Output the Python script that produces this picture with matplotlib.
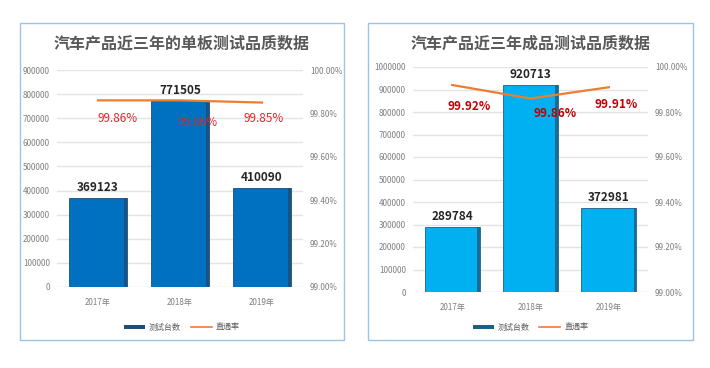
import matplotlib.pyplot as plt
import numpy as np
from matplotlib.patches import Rectangle
from matplotlib.lines import Line2D
from matplotlib.ticker import FuncFormatter

plt.rcParams['font.family'] = ['Noto Sans CJK SC', 'DejaVu Sans']

years = ['2017年', '2018年', '2019年']

board_title = '汽车产品近三年的单板测试品质数据'
board_counts = [369123, 771505, 410090]
board_rate = [99.86, 99.86, 99.85]

product_title = '汽车产品近三年成品测试品质数据'
product_counts = [289784, 920713, 372981]
product_rate = [99.92, 99.86, 99.91]

W, H = 710, 368
fig = plt.figure(figsize=(W / 100, H / 100), dpi=100)


def px(x0, y0, x1, y1):
    # pixel box (top-left origin) -> figure fraction rect
    return [x0 / W, 1 - y1 / H, (x1 - x0) / W, (y1 - y0) / H]


def panel(box, area, title, counts, rate, ymax, bar_color, edge_color,
          pct_style, pct_offsets):
    bx0, by0, bx1, by1 = box
    fig.patches.append(Rectangle((bx0 / W, 1 - by1 / H), (bx1 - bx0) / W,
                                 (by1 - by0) / H, transform=fig.transFigure,
                                 fill=False, edgecolor='#9DC3E6', lw=1.0))
    fig.text((bx0 + bx1) / 2 / W, 1 - 44 / H, title, ha='center', va='center',
             fontsize=11.5, fontweight='bold', color='#595959')

    ax = fig.add_axes(px(*area))
    x = np.arange(len(years))
    bw = 0.70
    ax.bar(x, counts, bw, color=bar_color, edgecolor=edge_color, lw=0.6, zorder=2)
    # darker bevel strip on the right side of each bar
    sw = 0.035
    ax.bar(x + bw / 2 - sw / 2, counts, sw, color=edge_color, lw=0,
           alpha=0.85, zorder=2.5)
    ax.set_xlim(-0.5, 2.5)
    ax.set_ylim(0, ymax)
    ax.set_yticks(np.arange(0, ymax + 1, 100000))
    ax.yaxis.set_major_formatter(FuncFormatter(lambda v, p: '%d' % v))
    ax.grid(axis='y', color='#E3E3E3', lw=1.0, zorder=0)
    for s in ax.spines.values():
        s.set_visible(False)
    ax.tick_params(axis='y', length=0, labelsize=5.8, colors='#7F7F7F', pad=5)
    ax.tick_params(axis='x', length=0, labelsize=5.8, colors='#7F7F7F', pad=8)
    ax.set_xticks(x)
    ax.set_xticklabels(years)
    for xi, c in zip(x, counts):
        ax.annotate(str(c), (xi, c), xytext=(0, 3), textcoords='offset points',
                    ha='center', va='bottom', fontsize=8.5, fontweight='bold',
                    color='#262626', zorder=5)

    ax2 = ax.twinx()
    ax2.plot(x, rate, color='#ED7D31', lw=1.6, zorder=3)
    ax2.set_ylim(99.0, 100.0)
    ax2.set_yticks([99.0, 99.2, 99.4, 99.6, 99.8, 100.0])
    ax2.yaxis.set_major_formatter(FuncFormatter(lambda v, p: '%.2f%%' % v))
    for s in ax2.spines.values():
        s.set_visible(False)
    ax2.tick_params(axis='y', length=0, labelsize=5.8, colors='#7F7F7F', pad=5)
    for xi, r, (dx, dy) in zip(x, rate, pct_offsets):
        ax2.annotate('%.2f%%' % r, (xi, r), xytext=(dx, dy),
                     textcoords='offset pixels', ha='center', va='center',
                     zorder=6, **pct_style)

    handles = [Rectangle((0, 0), 1, 1, facecolor=edge_color),
               Line2D([], [], color='#ED7D31', lw=1.2)]
    fig.legend(handles, ['测试台数', '直通率'], loc='center',
               bbox_to_anchor=((bx0 + bx1) / 2 / W, 1 - 327 / H), ncol=2,
               frameon=False, fontsize=5.8, labelcolor='#595959',
               handlelength=2.6, handleheight=0.35, columnspacing=1.2,
               handletextpad=0.5)


panel((20, 23, 344, 340), (57, 70, 303, 287), board_title, board_counts,
      board_rate, 900000, '#0070C0', '#1F4E79',
      dict(fontsize=8.5, color='#E0262C'),
      [(20, -18), (18, -22), (2, -16)])

panel((368, 23, 693, 340), (413, 67, 648, 292), product_title, product_counts,
      product_rate, 1000000, '#00B0F0', '#1F5F85',
      dict(fontsize=8.5, color='#C00000', fontweight='bold'),
      [(17, -22), (25, -15), (7, -17)])

fig.savefig('out.png', dpi=100)
